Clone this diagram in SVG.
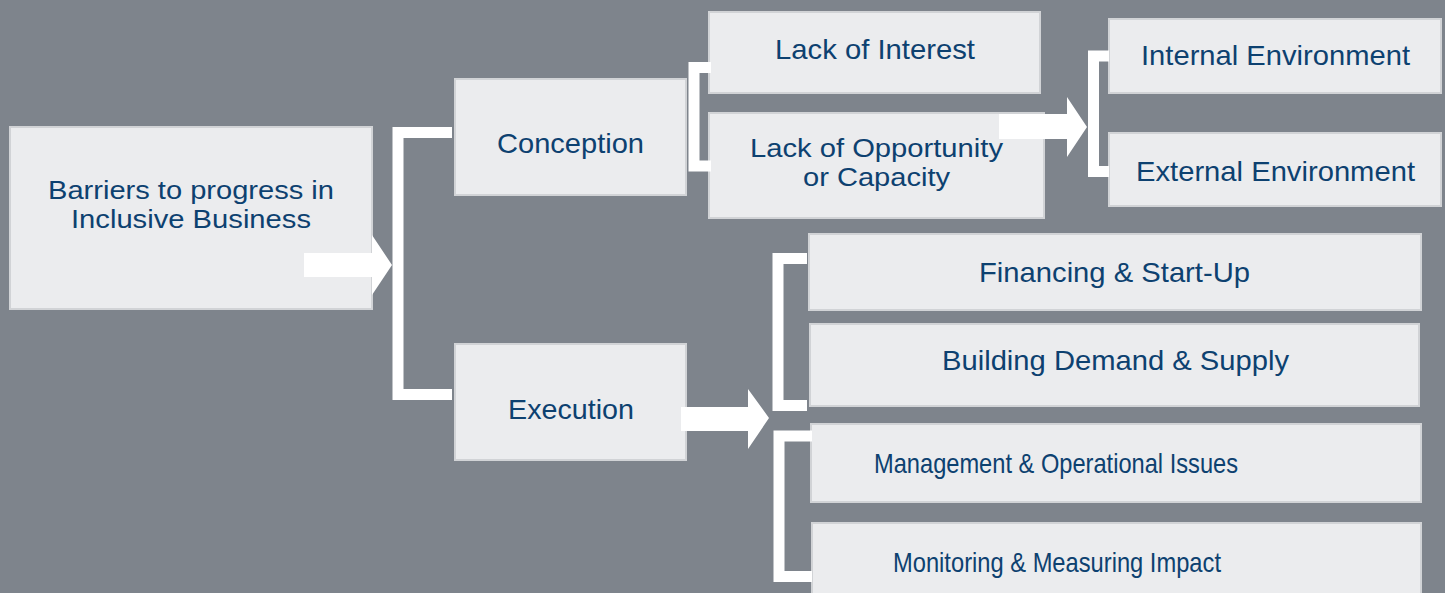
<svg xmlns="http://www.w3.org/2000/svg" width="1445" height="593" viewBox="0 0 1445 593">
<style>
.box{fill:#ebecee;stroke:#d1d3d6;stroke-width:2}
.t{font-family:"Liberation Sans",Arial,sans-serif;font-size:28px;fill:#0d4170;text-anchor:start}
.t2{font-size:26px}
.br{fill:none;stroke:#ffffff;stroke-width:11;stroke-linejoin:miter}
.ar{fill:#ffffff}
</style>
<rect x="0" y="0" width="1445" height="593" fill="#7e848c"/>
<g id="node-barriers"><rect class="box" x="10" y="127" width="362" height="182"/>
<text class="t t2" x="48" y="199" textLength="286" lengthAdjust="spacingAndGlyphs">Barriers to progress in</text>
<text class="t t2" x="71" y="228" textLength="240" lengthAdjust="spacingAndGlyphs">Inclusive Business</text></g>
<g id="node-conception"><rect class="box" x="455" y="79" width="231" height="116"/>
<text class="t" x="497" y="153" textLength="147" lengthAdjust="spacingAndGlyphs">Conception</text></g>
<g id="node-execution"><rect class="box" x="455" y="344" width="231" height="116"/>
<text class="t" x="508" y="419" textLength="126" lengthAdjust="spacingAndGlyphs">Execution</text></g>
<g id="node-interest"><rect class="box" x="709" y="12" width="331" height="81"/>
<text class="t" x="775" y="59" textLength="200" lengthAdjust="spacingAndGlyphs">Lack of Interest</text></g>
<g id="node-opportunity"><rect class="box" x="709" y="113" width="335" height="105"/>
<text class="t t2" x="750" y="157" textLength="253" lengthAdjust="spacingAndGlyphs">Lack of Opportunity</text>
<text class="t t2" x="803" y="186" textLength="147" lengthAdjust="spacingAndGlyphs">or Capacity</text></g>
<g id="node-internal"><rect class="box" x="1109" y="19" width="332" height="74"/>
<text class="t" x="1141" y="65" textLength="269" lengthAdjust="spacingAndGlyphs">Internal Environment</text></g>
<g id="node-external"><rect class="box" x="1109" y="133" width="332" height="73"/>
<text class="t" x="1136" y="181" textLength="279" lengthAdjust="spacingAndGlyphs">External Environment</text></g>
<g id="node-financing"><rect class="box" x="809" y="234" width="612" height="76"/>
<text class="t" x="979" y="282" textLength="271" lengthAdjust="spacingAndGlyphs">Financing &amp; Start-Up</text></g>
<g id="node-building"><rect class="box" x="810" y="324" width="609" height="82"/>
<text class="t" x="942" y="370" textLength="347" lengthAdjust="spacingAndGlyphs">Building Demand &amp; Supply</text></g>
<g id="node-management"><rect class="box" x="811" y="424" width="610" height="78"/>
<text class="t" x="874" y="473" textLength="364" lengthAdjust="spacingAndGlyphs">Management &amp; Operational Issues</text></g>
<g id="node-monitoring"><rect class="box" x="812" y="523" width="609" height="80"/>
<text class="t" x="893" y="572" textLength="328" lengthAdjust="spacingAndGlyphs">Monitoring &amp; Measuring Impact</text></g>
<g id="connectors">
<polygon class="ar" points="304,253 372,253 372,235 392,265 372,295 372,277 304,277"/>
<polyline class="br" points="452,132.5 398,132.5 398,394.5 452,394.5"/>
<polyline class="br" points="711,67.5 694,67.5 694,166 711,166"/>
<polygon class="ar" points="999,114 1067,114 1067,97 1087,127 1067,157 1067,139 999,139"/>
<polyline class="br" points="1109,56 1093.5,56 1093.5,171.5 1109,171.5"/>
<polygon class="ar" points="681,407 748,407 748,389 769,418 748,449 748,431 681,431"/>
<polyline class="br" points="807,258.5 778,258.5 778,405.5 807,405.5"/>
<polyline class="br" points="812,436 779,436 779,576.5 812,576.5"/>
</g>
</svg>
